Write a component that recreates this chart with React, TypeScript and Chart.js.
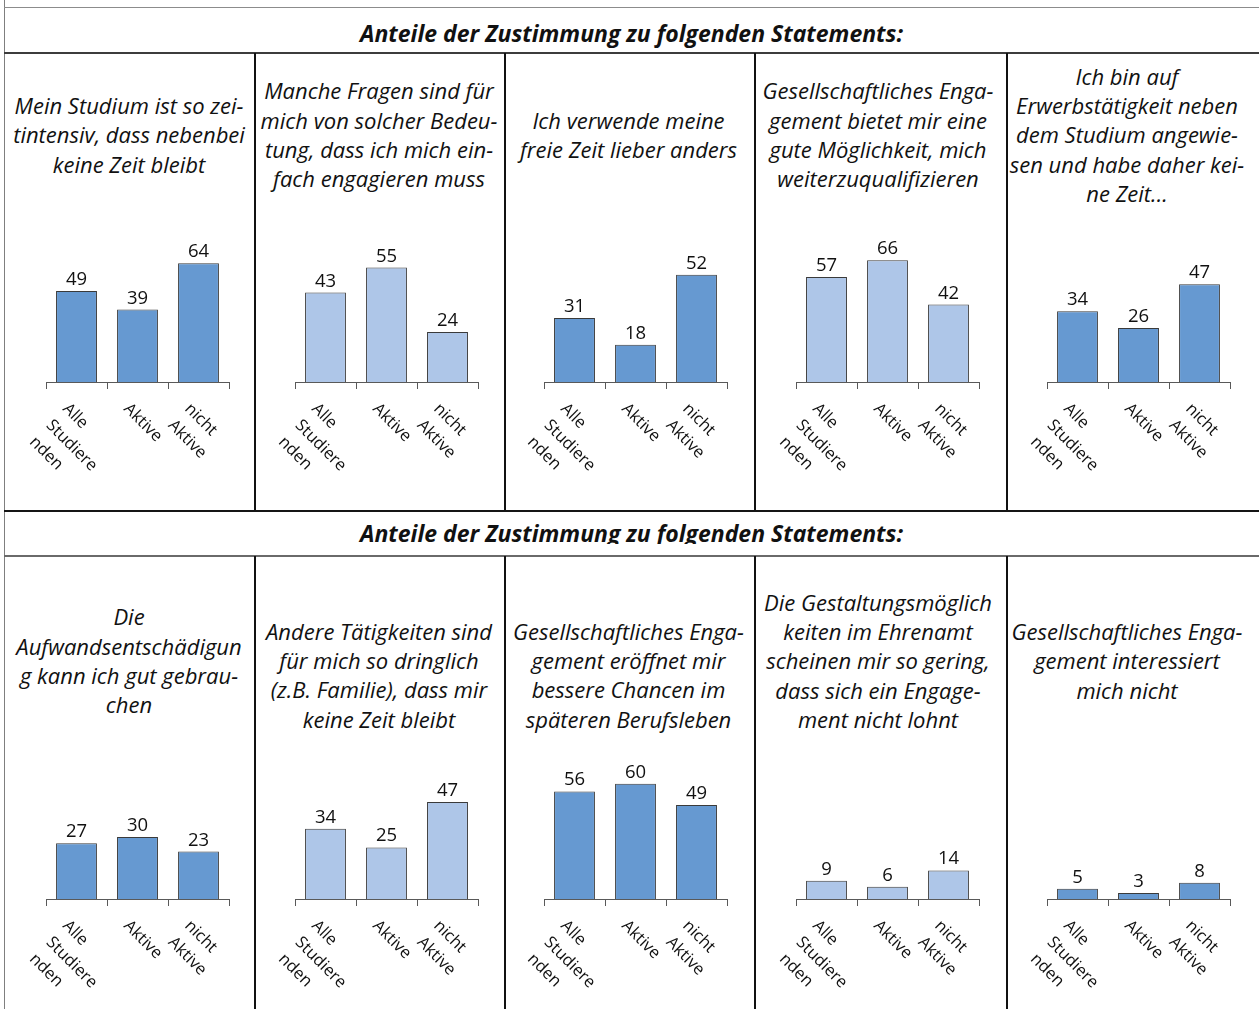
import React, { useEffect, useRef } from "react";
import { Chart, registerables } from "chart.js";

Chart.register(...registerables);

// ---------- data ----------
const headerText = "Anteile der Zustimmung zu folgenden Statements:";

const categories: string[][] = [
  ["Alle", "Studiere", "nden"],
  ["Aktive"],
  ["nicht", "Aktive"],
];

const statementZeitintensiv = ["Mein Studium ist so zei-", "tintensiv, dass nebenbei", "keine Zeit bleibt"];
const statementBedeutung = ["Manche Fragen sind für", "mich von solcher Bedeu-", "tung, dass ich mich ein-", "fach engagieren muss"];
const statementFreizeit = ["Ich verwende meine", "freie Zeit lieber anders"];
const statementQualifizieren = ["Gesellschaftliches Enga-", "gement bietet mir eine", "gute Möglichkeit, mich", "weiterzuqualifizieren"];
const statementErwerb = ["Ich bin auf", "Erwerbstätigkeit neben", "dem Studium angewie-", "sen und habe daher kei-", "ne Zeit..."];
const statementAufwand = ["Die", "Aufwandsentschädigun", "g kann ich gut gebrau-", "chen"];
const statementDringlich = ["Andere Tätigkeiten sind", "für mich so dringlich", "(z.B. Familie), dass mir", "keine Zeit bleibt"];
const statementChancen = ["Gesellschaftliches Enga-", "gement eröffnet mir", "bessere Chancen im", "späteren Berufsleben"];
const statementGestaltung = ["Die Gestaltungsmöglich", "keiten im Ehrenamt", "scheinen mir so gering,", "dass sich ein Engage-", "ment nicht lohnt"];
const statementInteresse = ["Gesellschaftliches Enga-", "gement interessiert", "mich nicht"];

const valuesZeitintensiv = [49, 39, 64];
const valuesBedeutung = [43, 55, 24];
const valuesFreizeit = [31, 18, 52];
const valuesQualifizieren = [57, 66, 42];
const valuesErwerb = [34, 26, 47];
const valuesAufwand = [27, 30, 23];
const valuesDringlich = [34, 25, 47];
const valuesChancen = [56, 60, 49];
const valuesGestaltung = [9, 6, 14];
const valuesInteresse = [5, 3, 8];

// axis maxima (per small chart, as in the original)
const axisMaxRow1 = [70, 62.5, 63, 70.5, 62.5];
const axisMaxRow2 = [63, 63, 67.7, 63.7, 63.7];

const DARK = "#6699D1";
const LIGHT = "#AEC6E8";

const row1 = [
  { text: statementZeitintensiv, values: valuesZeitintensiv, color: DARK },
  { text: statementBedeutung, values: valuesBedeutung, color: LIGHT },
  { text: statementFreizeit, values: valuesFreizeit, color: DARK },
  { text: statementQualifizieren, values: valuesQualifizieren, color: LIGHT },
  { text: statementErwerb, values: valuesErwerb, color: DARK },
];
const row2 = [
  { text: statementAufwand, values: valuesAufwand, color: DARK },
  { text: statementDringlich, values: valuesDringlich, color: LIGHT },
  { text: statementChancen, values: valuesChancen, color: DARK },
  { text: statementGestaltung, values: valuesGestaltung, color: LIGHT },
  { text: statementInteresse, values: valuesInteresse, color: DARK },
];

// ---------- layout ----------
const W = 1259;
const H_PAGE = 1009;
const dividerX = [254, 503.5, 753.5, 1005.5];
const textCenters = [129, 379, 628.5, 878, 1127];
const axisStarts = [46, 295, 544, 796, 1047];
const AXIS_W = 183;
const PLOT_H = 130;
const PAD_T = 32;
const PAD_L = 40;
const PAD_R = 32;
const PAD_B = 95;
const TICK = 7;
const LINE_H = 29.3;

const valueLabelPlugin = {
  id: "valueLabels",
  afterDatasetsDraw(chart: any) {
    const ctx = chart.ctx;
    const meta = chart.getDatasetMeta(0);
    const data = chart.data.datasets[0].data;
    ctx.save();
    ctx.font = '18.5px "Open Sans"';
    ctx.fillStyle = "#111";
    ctx.textAlign = "center";
    ctx.textBaseline = "alphabetic";
    meta.data.forEach((el: any, i: number) => {
      ctx.fillText(String(data[i]), el.x, el.y - 6);
    });
    ctx.restore();
  },
};

const categoryLabelPlugin = {
  id: "rotatedCategoryLabels",
  afterDraw(chart: any) {
    const ctx = chart.ctx;
    const xs = chart.scales.x;
    const base = chart.chartArea.bottom;
    const labels = chart.data.labels as string[][];
    ctx.save();
    ctx.font = '16.5px "Open Sans"';
    ctx.fillStyle = "#111";
    ctx.textAlign = "left";
    ctx.textBaseline = "alphabetic";
    labels.forEach((lines, i) => {
      const cx = xs.getPixelForValue(i);
      lines.forEach((line, j) => {
        ctx.save();
        ctx.translate(cx - 14.5 - 16.6 * j, base + 27.5 + 16.6 * j);
        ctx.rotate(Math.PI / 4);
        ctx.fillText(line, 0, 0);
        ctx.restore();
      });
    });
    ctx.restore();
  },
};

function SmallBar({ values, color, yMax, left, top }: { values: number[]; color: string; yMax: number; left: number; top: number }) {
  const ref = useRef<HTMLCanvasElement>(null);
  const width = PAD_L + AXIS_W + PAD_R;
  const height = PAD_T + PLOT_H + TICK + PAD_B;
  useEffect(() => {
    const chart = new Chart(ref.current as HTMLCanvasElement, {
      type: "bar",
      data: {
        labels: categories as any,
        datasets: [
          {
            data: values,
            backgroundColor: color,
            borderColor: "#3a3a3a",
            borderWidth: 1,
            barPercentage: 0.67,
            categoryPercentage: 1,
          },
        ],
      },
      options: {
        animation: false,
        responsive: false,
        events: [],
        layout: { padding: { left: PAD_L, right: PAD_R, top: PAD_T, bottom: PAD_B } },
        plugins: { legend: { display: false }, tooltip: { enabled: false }, title: { display: false } },
        scales: {
          x: {
            grid: { offset: true, drawOnChartArea: false, drawTicks: true, tickLength: TICK, color: "#595959", lineWidth: 1 },
            border: { display: true, color: "#595959", width: 1 },
            ticks: { display: false },
          },
          y: { display: false, min: 0, max: yMax },
        },
      } as any,
      plugins: [valueLabelPlugin, categoryLabelPlugin],
    });
    return () => chart.destroy();
  }, []);
  return (
    <canvas
      ref={ref}
      width={width}
      height={height}
      style={{ position: "absolute", left, top, width, height }}
    />
  );
}

function Title({ lines, center, midY }: { lines: string[]; center: number; midY: number }) {
  const top = midY - (lines.length * LINE_H) / 2;
  return (
    <div
      style={{
        position: "absolute",
        left: center - 140,
        width: 280,
        top,
        textAlign: "center",
        fontStyle: "italic",
        fontSize: 22,
        lineHeight: LINE_H + "px",
        whiteSpace: "nowrap",
        color: "#111",
      }}
    >
      {lines.map((l, i) => (
        <div key={i}>{l}</div>
      ))}
    </div>
  );
}

function Line({ x, y, w, h, c }: { x: number; y: number; w: number; h: number; c: string }) {
  return <div style={{ position: "absolute", left: x, top: y, width: w, height: h, background: c }} />;
}

const headerStyle: React.CSSProperties = {
  position: "absolute",
  left: 0,
  width: W - 4,
  lineHeight: "30px",
  textAlign: "center",
  fontWeight: 700,
  fontStyle: "italic",
  fontSize: 23,
  whiteSpace: "nowrap",
};

export default function App() {
  const row1Axis = 382;
  const row2Axis = 899;
  const row2Mid = [661, 675.5, 675.5, 661, 661];
  return (
    <div
      style={{
        position: "absolute",
        left: 0,
        top: 0,
        width: W,
        height: H_PAGE,
        overflow: "hidden",
        background: "#fff",
        fontFamily: '"Open Sans", sans-serif',
        color: "#111",
      }}
    >
      {/* frame lines */}
      <Line x={3.5} y={0} w={1} h={H_PAGE} c="#7f7f7f" />
      <Line x={4} y={7} w={W} h={1} c="#8c8c8c" />
      <Line x={4} y={52} w={W} h={1.5} c="#3c3c3c" />
      <Line x={4} y={509.5} w={W} h={2} c="#151515" />
      <Line x={4} y={555} w={W} h={1.5} c="#6a6a6a" />
      {dividerX.map((x, i) => (
        <React.Fragment key={i}>
          <Line x={x} y={53} w={2} h={457} c="#111" />
          <Line x={x} y={556} w={2} h={H_PAGE - 556} c="#111" />
        </React.Fragment>
      ))}

      {/* headers */}
      <div style={{ position: "absolute", left: 4, width: W - 4, top: 9, height: 42, overflow: "hidden" }}>
        <div style={{ ...headerStyle, top: 8.5 }}>{headerText}</div>
      </div>
      <div style={{ position: "absolute", left: 4, width: W - 4, top: 512, height: 31.5, overflow: "hidden" }}>
        <div style={{ ...headerStyle, top: 5.5 }}>{headerText}</div>
      </div>

      {row1.map((cell, i) => (
        <Title key={"t1" + i} lines={cell.text} center={textCenters[i]} midY={135} />
      ))}
      {row2.map((cell, i) => (
        <Title key={"t2" + i} lines={cell.text} center={textCenters[i]} midY={row2Mid[i]} />
      ))}

      {row1.map((cell, i) => (
        <SmallBar
          key={"c1" + i}
          values={cell.values}
          color={cell.color}
          yMax={axisMaxRow1[i]}
          left={axisStarts[i] - PAD_L}
          top={row1Axis - PLOT_H - PAD_T}
        />
      ))}
      {row2.map((cell, i) => (
        <SmallBar
          key={"c2" + i}
          values={cell.values}
          color={cell.color}
          yMax={axisMaxRow2[i]}
          left={axisStarts[i] - PAD_L}
          top={row2Axis - PLOT_H - PAD_T}
        />
      ))}
    </div>
  );
}
